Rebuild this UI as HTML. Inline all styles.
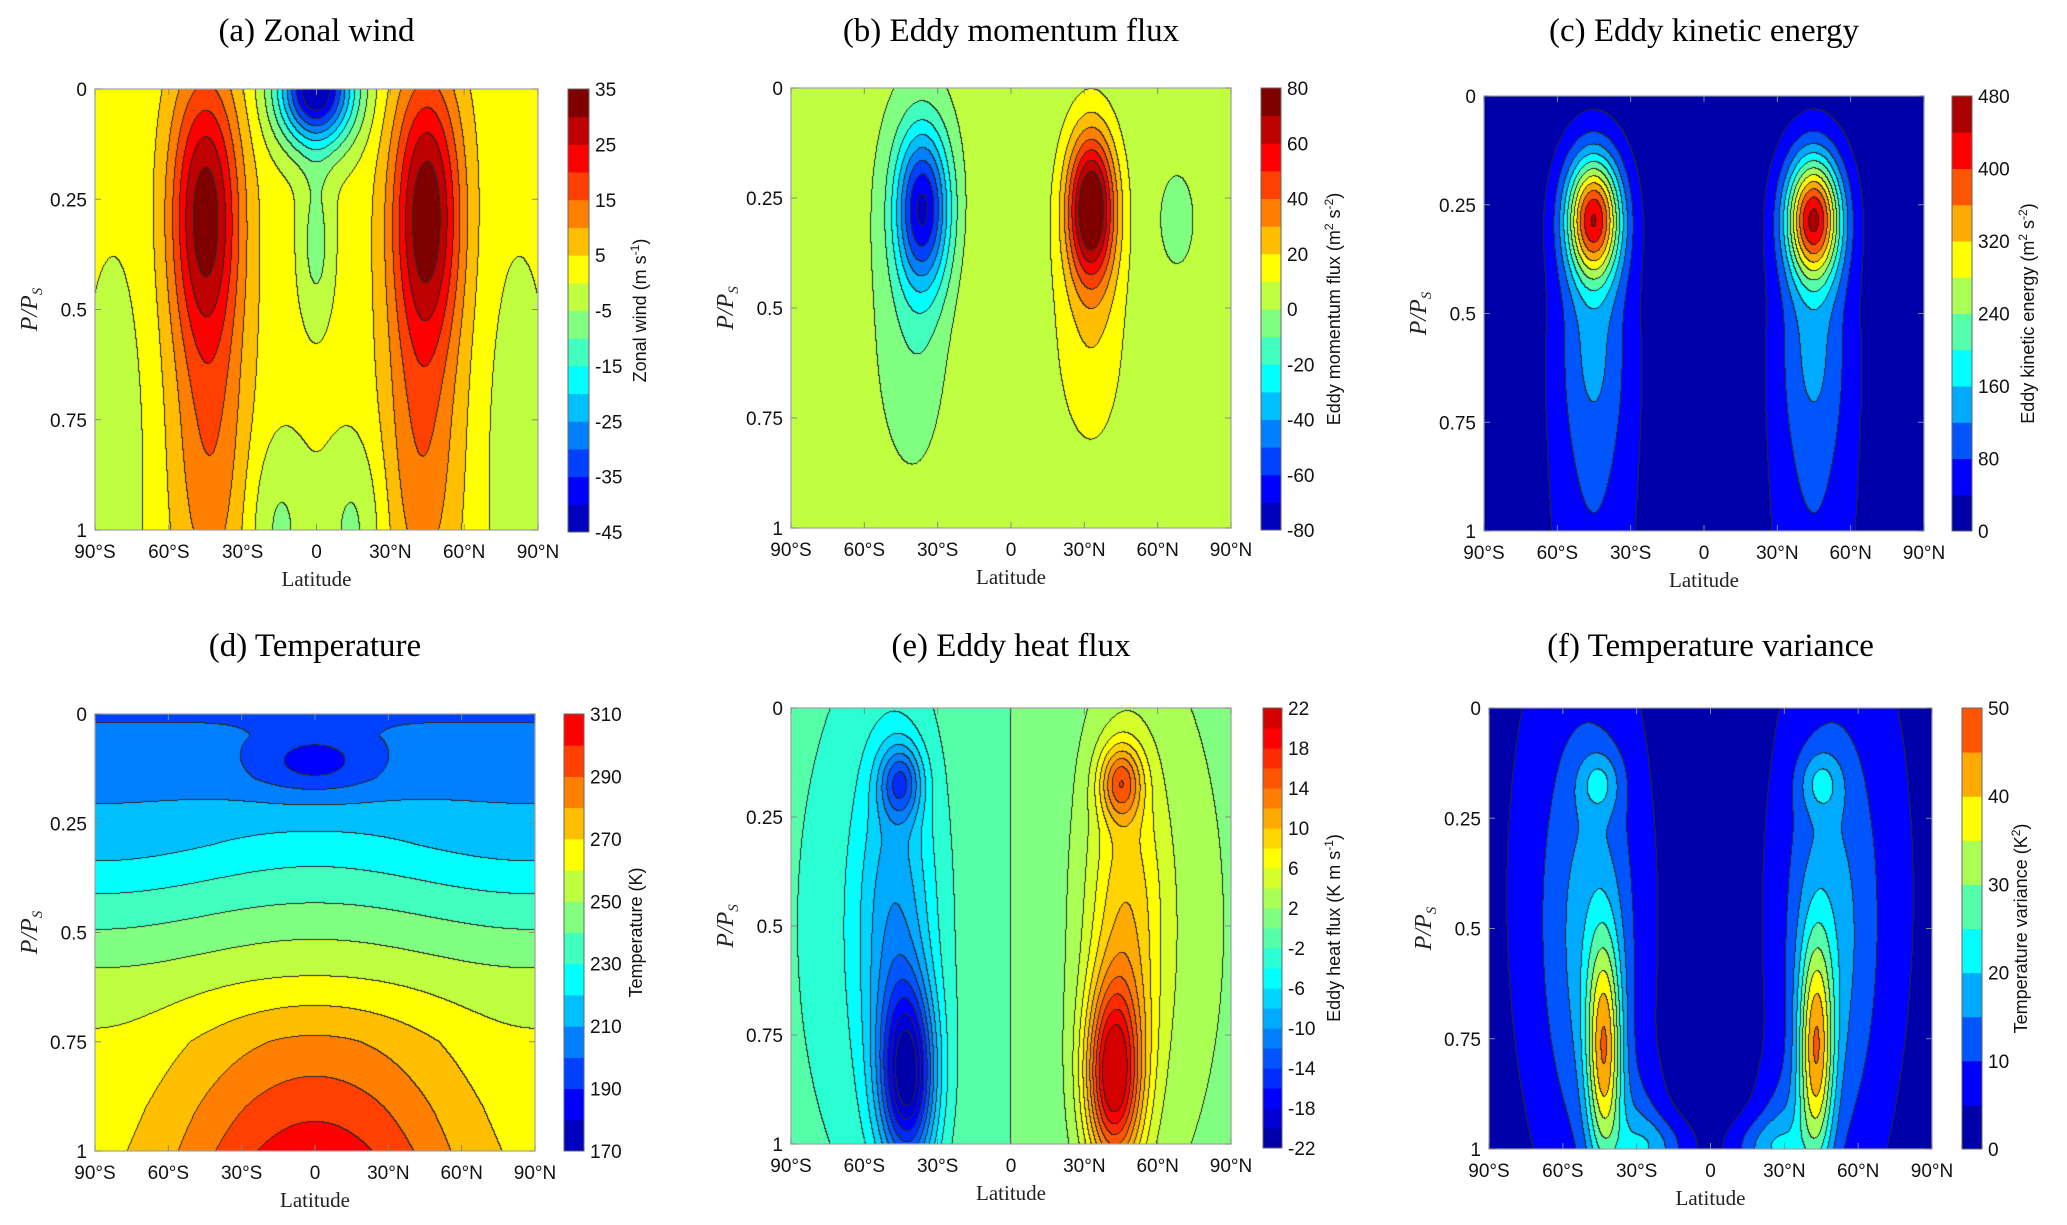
<!DOCTYPE html>
<html><head><meta charset="utf-8">
<style>
html,body{margin:0;padding:0;background:#fff;}
#wrap{position:relative;width:2067px;height:1225px;overflow:hidden;background:#fff;}
canvas{position:absolute;}
svg{position:absolute;left:0;top:0;}
</style></head>
<body>
<div id="wrap">
<svg id="ov" width="2067" height="1225"></svg>
</div>
<script>
// ---------- data arrays ----------
const xTickLats = [-90,-60,-30,0,30,60,90];
const xTickLabels = ['90°S','60°S','30°S','0','30°N','60°N','90°N'];
const yTickVals = [0,0.25,0.5,0.75,1];
const yTickLabels = ['0','0.25','0.5','0.75','1'];

// (a) zonal wind blobs
const aLat = [-45,45,-43,43,0,0,-15,15,-82,82];
const aP   = [0.27,0.27,0.8,0.8,0,0.35,1.0,1.0,0.85,0.85];
const aAmp = [29,30,12,12,-48,-9,-8,-8,-5,-5];
const aSLat= [10,10,11,11,11,5,9,9,10,10];
const aSP  = [0.22,0.22,0.3,0.3,0.09,0.13,0.15,0.15,0.35,0.35];
const aBase = 2;
const aTicks = [35,25,15,5,-5,-15,-25,-35,-45];

// (b) eddy momentum flux blobs
const bLat = [-36,33,33,-38,68,-10];
const bP   = [0.27,0.27,0.55,0.55,0.3,0.6];
const bAmp = [-72,80,15,-12,-12,6];
const bSLat= [8,7,10,10,4,15];
const bSP  = [0.13,0.12,0.2,0.2,0.06,0.4];
const bBase = 3;
const bTicks = [80,60,40,20,0,-20,-40,-60,-80];

// (c) eddy kinetic energy blobs
const cLat = [-45,45,-45,45,-45,45];
const cP   = [0.28,0.28,0.55,0.55,0.9,0.9];
const cAmp = [390,400,80,80,55,55];
const cSLat= [8,8,10,10,12,12];
const cSP  = [0.1,0.1,0.18,0.18,0.3,0.3];
const cBase = 20;
const cTicks = [480,400,320,240,160,80,0];

// (d) temperature profile + blob
const dPKnots = [0,0.05,0.15,0.3,0.45,0.6,0.75,0.9,1.0];
const dTEq    = [198,203,205,224,242,260,282,297,306];
const dTPole  = [198,203,207,215,235,252,262,266,268];
const dLat = [0];
const dP   = [0.11];
const dAmp = [-18];
const dSLat= [18];
const dSP  = [0.05];
const dTicks = [310,290,270,250,230,210,190,170];

// (e) eddy heat flux blobs
const eLat = [-42,42,-45,45,-47,47,-60,60];
const eP   = [0.85,0.85,0.17,0.17,0.5,0.5,0.5,0.5];
const eAmp = [-17,18,-9,10,-7,7,-3,3];
const eSLat= [8,8,6,6,11,11,30,30];
const eSP  = [0.15,0.15,0.06,0.06,0.3,0.3,0.6,0.6];
const eBase = 0;
const eTicks = [22,18,14,10,6,2,-2,-6,-10,-14,-18,-22];

// (f) temperature variance blobs
const fLat = [-43,43,-45,45,-48,48,-30,30,-22,22,-55,55];
const fP   = [0.78,0.78,0.17,0.17,0.55,0.55,0.97,0.97,1.0,1.0,0.4,0.4];
const fAmp = [32,32,10,10,10,10,8,8,10,10,6,6];
const fSLat= [5,5,6,6,13,13,8,8,10,10,22,22];
const fSP  = [0.18,0.18,0.05,0.05,0.35,0.35,0.1,0.1,0.05,0.05,0.5,0.5];
const fBase = 2;
const fTicks = [50,40,30,20,10,0];

// ---------- helpers ----------
function blobs(lat,p,L,P,A,SL,SP){
  let v=0;
  for(let i=0;i<L.length;i++){
    const dl=(lat-L[i])/SL[i], dp=(p-P[i])/SP[i];
    v+=A[i]*Math.exp(-0.5*(dl*dl+dp*dp));
  }
  return v;
}
function interp(xs,ys,x){
  if(x<=xs[0])return ys[0];
  for(let i=1;i<xs.length;i++){ if(x<=xs[i]){const t=(x-xs[i-1])/(xs[i]-xs[i-1]);return ys[i-1]+t*(ys[i]-ys[i-1]);} }
  return ys[ys.length-1];
}
function jet(m){
  const n=Math.ceil(m/4);const u=[];
  for(let i=1;i<=n;i++)u.push(i/n);
  for(let i=1;i<n;i++)u.push(1);
  for(let i=n;i>=1;i--)u.push(i/n);
  const g0=Math.ceil(n/2)-(m%4===1?1:0);
  const J=[];for(let i=0;i<m;i++)J.push([0,0,0]);
  for(let k=1;k<=u.length;k++){
    const g=g0+k, r=g+n, b=g-n;
    if(r>=1&&r<=m)J[r-1][0]=u[k-1];
    if(g>=1&&g<=m)J[g-1][1]=u[k-1];
    if(b>=1&&b<=m)J[b-1][2]=u[k-1];
  }
  return J;
}
const rgb=c=>'rgb('+Math.round(c[0]*255)+','+Math.round(c[1]*255)+','+Math.round(c[2]*255)+')';

const panels=[
 {k:'a',title:'(a) Zonal wind',ty:41,plot:[95,89,538,530],cb:[568,89,589,532],lo:-45,hi:35,step:5,ticks:aTicks,
  label:['Zonal wind (m s','-1',')'],labelX:646,
  f:(l,p)=>aBase+blobs(l,p,aLat,aP,aAmp,aSLat,aSP)},
 {k:'b',title:'(b) Eddy momentum flux',ty:41,plot:[791,88,1231,528],cb:[1261,88,1281,530],lo:-80,hi:80,step:10,ticks:bTicks,
  label:['Eddy momentum flux (m','2',' s','-2',')'],labelX:1340,
  f:(l,p)=>bBase+blobs(l,p,bLat,bP,bAmp,bSLat,bSP)},
 {k:'c',title:'(c) Eddy kinetic energy',ty:41,plot:[1484,96,1924,531],cb:[1952,96,1972,531],lo:0,hi:480,step:40,ticks:cTicks,
  label:['Eddy kinetic energy (m','2',' s','-2',')'],labelX:2034,
  f:(l,p)=>cBase+blobs(l,p,cLat,cP,cAmp,cSLat,cSP)},
 {k:'d',title:'(d) Temperature',ty:656,plot:[95,714,535,1151],cb:[564,714,584,1151],lo:170,hi:310,step:10,ticks:dTicks,
  label:['Temperature (K)'],labelX:642,
  f:(l,p)=>{const w=Math.pow(Math.cos(l*Math.PI/180),2);return w*interp(dPKnots,dTEq,p)+(1-w)*interp(dPKnots,dTPole,p)+blobs(l,p,dLat,dP,dAmp,dSLat,dSP);}},
 {k:'e',title:'(e) Eddy heat flux',ty:656,plot:[791,708,1231,1144],cb:[1263,708,1282,1148],lo:-22,hi:22,step:2,ticks:eTicks,
  label:['Eddy heat flux (K m s','-1',')'],labelX:1340,
  f:(l,p)=>eBase+blobs(l,p,eLat,eP,eAmp,eSLat,eSP)},
 {k:'f',title:'(f) Temperature variance',ty:656,plot:[1489,708,1932,1149],cb:[1962,708,1982,1149],lo:0,hi:50,step:5,ticks:fTicks,
  label:['Temperature variance (K','2',')'],labelX:2027,
  f:(l,p)=>fBase+blobs(l,p,fLat,fP,fAmp,fSLat,fSP)}
];

const NS='http://www.w3.org/2000/svg';
const ov=document.getElementById('ov');
const wrap=document.getElementById('wrap');
function mk(tag,attrs,parent){const e=document.createElementNS(NS,tag);for(const a in attrs)e.setAttribute(a,attrs[a]);(parent||ov).appendChild(e);return e;}

panels.forEach(P=>{
  const [x0,y0,x1,y1]=P.plot, W=x1-x0, H=y1-y0;
  const nb=Math.round((P.hi-P.lo)/P.step);
  const cmap=jet(nb);
  const cv=document.createElement('canvas');
  cv.width=W;cv.height=H;cv.style.left=x0+'px';cv.style.top=y0+'px';
  
  
  wrap.insertBefore(cv,ov);
  const ctx=cv.getContext('2d');const img=ctx.createImageData(W,H);
  const band=new Int16Array(W*H);
  for(let y=0;y<H;y++){const p=(y+0.5)/H;
    for(let x=0;x<W;x++){const l=-90+180*(x+0.5)/W;
      let b=Math.floor((P.f(l,p)-P.lo)/P.step);if(b<0)b=0;if(b>nb-1)b=nb-1;band[y*W+x]=b;}}
  for(let y=0;y<H;y++)for(let x=0;x<W;x++){
    const i=y*W+x,b=band[i];let c=cmap[b];
    let edge=(x<W-1&&band[i+1]!==b)||(y<H-1&&band[i+W]!==b);
    const o=i*4;
    if(edge){img.data[o]=40;img.data[o+1]=40;img.data[o+2]=40;}
    else{img.data[o]=c[0]*255;img.data[o+1]=c[1]*255;img.data[o+2]=c[2]*255;}
    img.data[o+3]=255;}
  ctx.putImageData(img,0,0);

  const g=mk('g',{});
  
  
  const t=mk('text',{x:(x0+x1)/2,y:P.ty,'text-anchor':'middle','font-family':'Liberation Serif, serif','font-size':33,fill:'#000'},g);
  t.textContent=P.title;
  
  
  const bx=mk('rect',{x:x0,y:y0,width:W,height:H,fill:'none',stroke:'#a0a0a0','stroke-width':1.2},g);
  
  
  xTickLats.forEach((lat,i)=>{
    const xx=x0+(lat+90)/180*W;
    mk('line',{x1:xx,y1:y1,x2:xx,y2:y1-6,stroke:'#888'},g);
    mk('line',{x1:xx,y1:y0,x2:xx,y2:y0+6,stroke:'#888'},g);
    const tl=mk('text',{x:xx,y:y1+28,'text-anchor':'middle','font-family':'Liberation Sans, sans-serif','font-size':19,fill:'#111'},g);
    tl.textContent=xTickLabels[i];
    
    
  });
  const xl=mk('text',{x:(x0+x1)/2,y:y1+56,'text-anchor':'middle','font-family':'Liberation Serif, serif','font-size':21,fill:'#222'},g);
  xl.textContent='Latitude';
  
  
  yTickVals.forEach((v,i)=>{
    const yy=y0+v*H;
    mk('line',{x1:x0,y1:yy,x2:x0+6,y2:yy,stroke:'#888'},g);
    mk('line',{x1:x1,y1:yy,x2:x1-6,y2:yy,stroke:'#888'},g);
    const tl=mk('text',{x:x0-8,y:yy+7,'text-anchor':'end','font-family':'Liberation Sans, sans-serif','font-size':19,fill:'#111'},g);
    tl.textContent=yTickLabels[i];
    
    
  });
  const yl=mk('text',{transform:'translate('+(x0-58)+','+((y0+y1)/2)+') rotate(-90)','text-anchor':'middle','font-family':'Liberation Serif, serif','font-style':'italic','font-size':24,fill:'#222'},g);
  yl.textContent='P/P';
  const ys=mk('tspan',{'font-size':15,dy:5},yl);ys.textContent='S';
  
  
  const [cx0,cy0,cx1,cy1]=P.cb, CH=cy1-cy0;
  for(let b=0;b<nb;b++){
    const r=mk('rect',{x:cx0,y:cy1-(b+1)*CH/nb,width:cx1-cx0,height:CH/nb+0.5,fill:rgb(cmap[b])},g);
    
    
  }
  const cbb=mk('rect',{x:cx0,y:cy0,width:cx1-cx0,height:CH,fill:'none',stroke:'#666','stroke-width':1},g);
  
  
  P.ticks.forEach(v=>{
    const yy=cy1-(v-P.lo)/(P.hi-P.lo)*CH;
    const tl=mk('text',{x:cx1+6,y:yy+7,'font-family':'Liberation Sans, sans-serif','font-size':19,fill:'#111'},g);
    tl.textContent=String(v);
    
    
  });
  const cl=mk('text',{transform:'translate('+P.labelX+','+((cy0+cy1)/2)+') rotate(-90)','text-anchor':'middle','font-family':'Liberation Sans, sans-serif','font-size':18,fill:'#111'},g);
  P.label.forEach((s,i)=>{
    const sup=(i%2===1);
    const ts=mk('tspan',sup?{'font-size':12,dy:-7}:{dy:(i>0?7:0)},cl);
    ts.textContent=s;
  });
  
  
});
</script>
</body></html>
